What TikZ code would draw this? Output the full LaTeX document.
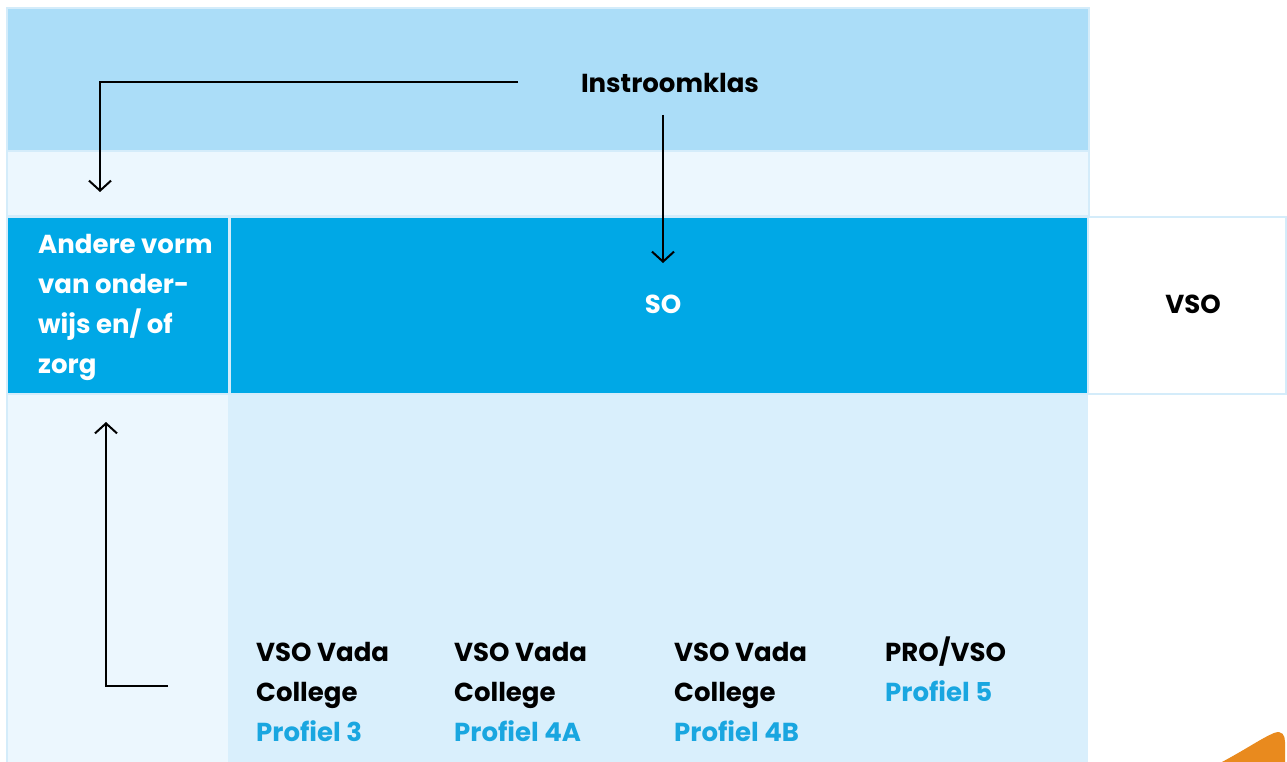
\documentclass[tikz,border=0pt]{standalone}
\usepackage{fontspec}
\setmainfont{Poppins}
\usetikzlibrary{arrows.meta}

\definecolor{topband}{HTML}{ABDDF8}
\definecolor{pale}{HTML}{ECF7FE}
\definecolor{dark}{HTML}{00A8E6}
\definecolor{lower}{HTML}{D9EFFC}
\definecolor{edge}{HTML}{D4ECFA}
\definecolor{prof}{HTML}{19A6E0}
\definecolor{corner}{HTML}{E98A1E}

\tikzset{
  lbl/.style={font=\bfseries\fontsize{26}{40}\selectfont,inner sep=0pt},
  col/.style={lbl,anchor=north west,align=left},
  arr/.style={line width=2pt,-{Straight Barb[length=10pt,width=22pt]}},
}

\begin{document}
\begin{tikzpicture}[x=1pt,y=-1pt]
  \useasboundingbox[fill=white] (0,0) rectangle (1287,762);

  %% top bands
  \fill[edge] (6,7) rectangle (1090,217);
  \fill[topband] (8,9) rectangle (1088,150);
  \fill[pale] (8,152) rectangle (1088,215);

  %% middle row
  \fill[edge] (6,216) rectangle (1287,395);
  \fill[dark] (8,218) rectangle (228,393);
  \fill[dark] (231,218) rectangle (1087,393);
  \fill[white] (1089,218) rectangle (1285,393);

  %% lower part
  \fill[edge] (6,395) rectangle (8,762);
  \fill[pale] (8,395) rectangle (228,762);
  \fill[lower] (228,395) rectangle (1088,762);

  %% orange corner
  \fill[corner] (1222,762) .. controls (1248,748) and (1262,738) .. (1274,733)
    .. controls (1282,730) and (1285,735) .. (1285,742) -- (1285,762) -- cycle;

  %% labels
  \node[lbl,anchor=base] (ins) at (670,93) {Instroomklas};
  \node[lbl,anchor=base,white] (so) at (663,313) {SO};
  \node[lbl,anchor=base] (vso) at (1193,313) {VSO};
  \node[col,white] (andere) at (38,225) {\strut Andere vorm\\van onder-\\wijs en/ of\\zorg};

  %% lower columns
  \node[col] (p3) at (256,633) {\strut VSO Vada\\College\\\textcolor{prof}{Profiel 3}};
  \node[col] (p4a) at (454,633) {\strut VSO Vada\\College\\\textcolor{prof}{Profiel 4A}};
  \node[col] (p4b) at (674,633) {\strut VSO Vada\\College\\\textcolor{prof}{Profiel 4B}};
  \node[col] (p5) at (885,633) {\strut PRO/VSO\\\textcolor{prof}{Profiel 5}};

  %% arrows
  \coordinate (insL) at (518,82);
  \coordinate (andereT) at (100,192);
  \draw[arr] (insL) -| (andereT);

  \coordinate (insB) at (663,115);
  \coordinate (soT) at (663,263);
  \draw[arr] (insB) -- (soT);

  \coordinate (p3L) at (168,686);
  \coordinate (andereB) at (106,422);
  \draw[arr] (p3L) -| (andereB);
\end{tikzpicture}
\end{document}
